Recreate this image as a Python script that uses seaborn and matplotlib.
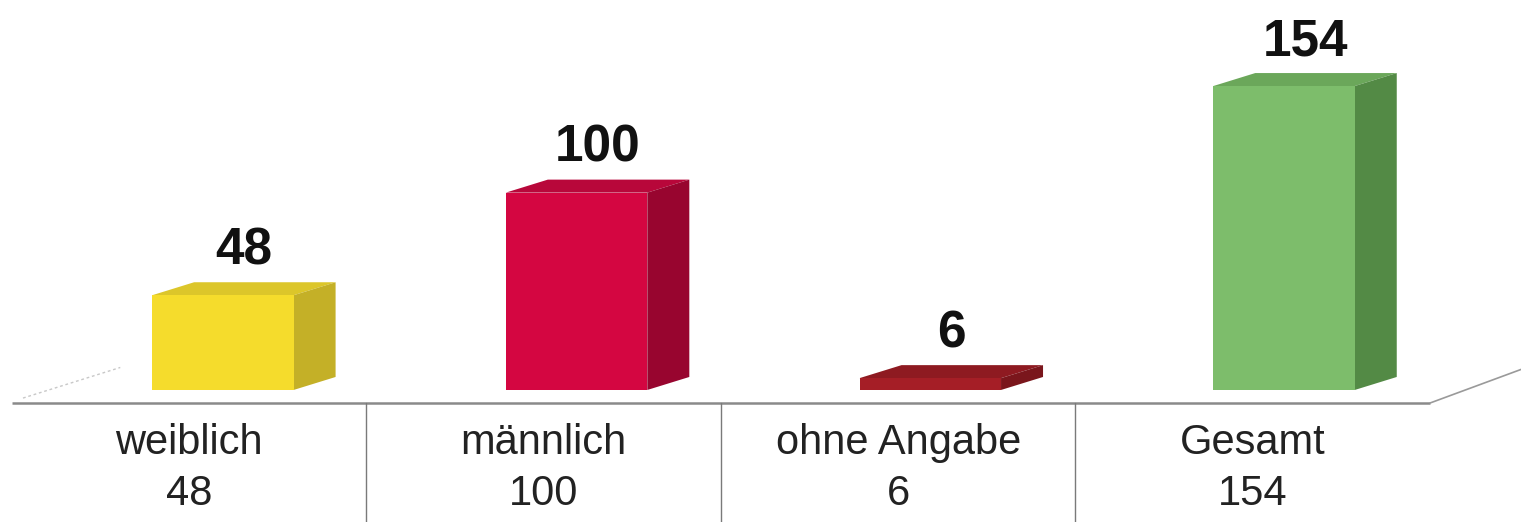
import matplotlib.pyplot as plt
import numpy as np
import seaborn as sns
from matplotlib.patches import Polygon

# chart data
categories = ['weiblich', 'männlich', 'ohne Angabe', 'Gesamt']
counts = [48, 100, 6, 154]
table_values = ['48', '100', '6', '154']

front_colors = ['#F5DC2C', '#D40641', '#A51E26', '#7DBD6B']
top_colors = ['#DCC62A', '#B8073A', '#8E1A21', '#6BA75A']
side_colors = ['#C4B027', '#98052F', '#7A161C', '#538A45']

sns.set_style('white')
plt.rcParams['font.family'] = ['Liberation Sans', 'DejaVu Sans']

fig = plt.figure(figsize=(15.21, 5.22), dpi=100)
ax = fig.add_axes([0, 0, 1, 1])

sns.barplot(x=categories, y=counts, hue=categories, palette=front_colors,
            width=0.40, legend=False, saturation=1, ax=ax, linewidth=0)

# pixel -> data scale: one category step is ~354 px, one unit is ~1.974 px
ax.set_xlim(-0.630, 3.670)
ax.set_ylim(-66.9, 197.6)
ax.axis('off')

dx = 42 / 353.7   # depth offset to the right
dy = 13 / 1.974   # depth offset upwards

bars = sorted(ax.patches, key=lambda p: p.get_x())
for i, bar in enumerate(bars):
    x0, w, h = bar.get_x(), bar.get_width(), bar.get_height()
    x1 = x0 + w
    top = Polygon([(x0, h), (x1, h), (x1 + dx, h + dy), (x0 + dx, h + dy)],
                  closed=True, facecolor=top_colors[i], edgecolor='none', zorder=1)
    side = Polygon([(x1, 0), (x1 + dx, dy), (x1 + dx, h + dy), (x1, h)],
                   closed=True, facecolor=side_colors[i], edgecolor='none', zorder=1)
    ax.add_patch(top)
    ax.add_patch(side)
    bar.set_zorder(2)
    ax.text(x0 + w / 2 + dx / 2, h + dy + 3.5, str(counts[i]), ha='center', va='bottom',
            fontsize=37, fontweight='bold', color='#111111')

# floor lines and data table below
floor_y = -6.6
left_edge, right_edge = -0.597, 3.413
ax.plot([left_edge, right_edge], [floor_y, floor_y], color='#8a8a8a', lw=1.8,
        solid_capstyle='butt', zorder=3)
ax.plot([right_edge, 3.670], [floor_y, floor_y + 17], color='#9a9a9a', lw=1.2, zorder=3)
ax.plot([-0.565, -0.290], [floor_y + 2.5, floor_y + 18], color='#c8c8c8', lw=1.0,
        ls=(0, (2, 2)), zorder=3)

col_w = (right_edge - left_edge) / 4
for k in range(1, 4):
    xb = left_edge + k * col_w
    ax.plot([xb, xb], [floor_y, -66.9], color='#7a7a7a', lw=1.0, zorder=3)

for i, (cat, val) in enumerate(zip(categories, table_values)):
    xc = left_edge + (i + 0.5) * col_w
    ax.text(xc, -27, cat, ha='center', va='center', fontsize=30, color='#222222')
    ax.text(xc, -52.5, val, ha='center', va='center', fontsize=30, color='#222222')

fig.savefig('out.png', dpi=100)
